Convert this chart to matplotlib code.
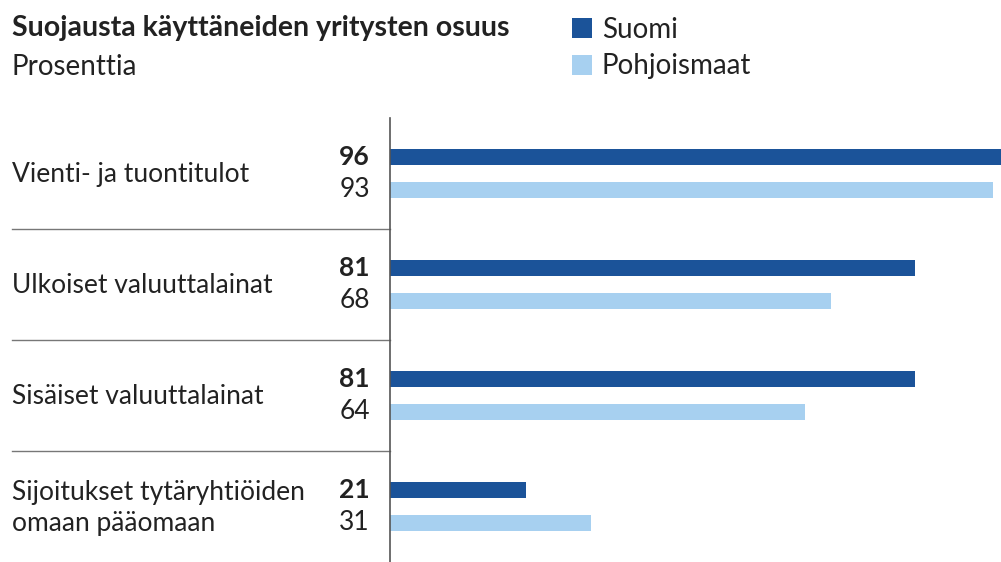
import matplotlib.pyplot as plt

plt.rcParams['font.family'] = ['Lato', 'DejaVu Sans']

categories = ["Vienti- ja tuontitulot", "Ulkoiset valuuttalainat",
              "Sisäiset valuuttalainat", "Sijoitukset tytäryhtiöiden\nomaan pääomaan"]
suomi = [96, 81, 81, 21]
pohjoismaat = [93, 68, 64, 31]

dark = "#1b5399"
light = "#a7d0f0"
txt = "#222222"

W, H = 1001, 562
fig = plt.figure(figsize=(W / 100, H / 100), dpi=100)
# axes: from x=390 px to right edge, from y=118 px down to bottom
ax = fig.add_axes([390 / W, 0, (W - 390) / W, (H - 118) / H])
ax.set_xlim(0, (W - 390) / 6.48)
ax.set_ylim(len(categories), 0)

pos = [i + 0.5 for i in range(len(categories))]
off = 0.148
h = 0.14
ax.barh([p - off for p in pos], suomi, height=h, color=dark, label="Suomi")
ax.barh([p + off for p in pos], pohjoismaat, height=h, color=light, label="Pohjoismaat")

for s in ["top", "right", "bottom"]:
    ax.spines[s].set_visible(False)
ax.spines["left"].set_color("#555555")
ax.spines["left"].set_linewidth(1.2)
ax.set_xticks([])
ax.set_yticks([])

tr = ax.get_yaxis_transform()
x_lab = (12 - 390) / (W - 390)
fs = 19
for i, (c, s, p) in enumerate(zip(categories, suomi, pohjoismaat)):
    ax.text(x_lab, pos[i] + 0.01, c, transform=tr, ha="left", va="center",
            fontsize=fs, color=txt, linespacing=1.3)
    ax.annotate(str(s), xy=(0, pos[i] - off), xytext=(-20, 0), textcoords="offset pixels",
                ha="right", va="center", fontsize=fs, fontweight="bold", color=txt,
                annotation_clip=False)
    ax.annotate(str(p), xy=(0, pos[i] + off), xytext=(-20, 0), textcoords="offset pixels",
                ha="right", va="center", fontsize=fs, color=txt,
                annotation_clip=False)
    if i > 0:
        ax.plot([x_lab, 0], [i, i], transform=tr, color="#777777", lw=1.0, clip_on=False)

fig.text(12 / W, 1 - 28 / H, "Suojausta käyttäneiden yritysten osuus", ha="left", va="center",
         fontsize=20.5, fontweight="bold", color=txt)
fig.text(12 / W, 1 - 67 / H, "Prosenttia", ha="left", va="center", fontsize=20, color=txt)

leg = ax.legend(loc="upper left", bbox_to_anchor=(558 / W, 1 - 3 / H), bbox_transform=fig.transFigure,
                frameon=False, fontsize=20, handlelength=0.72, handleheight=0.72,
                handletextpad=0.35, labelspacing=0.38, borderpad=0)
for t in leg.get_texts():
    t.set_color(txt)

fig.savefig("out.png", dpi=100)
